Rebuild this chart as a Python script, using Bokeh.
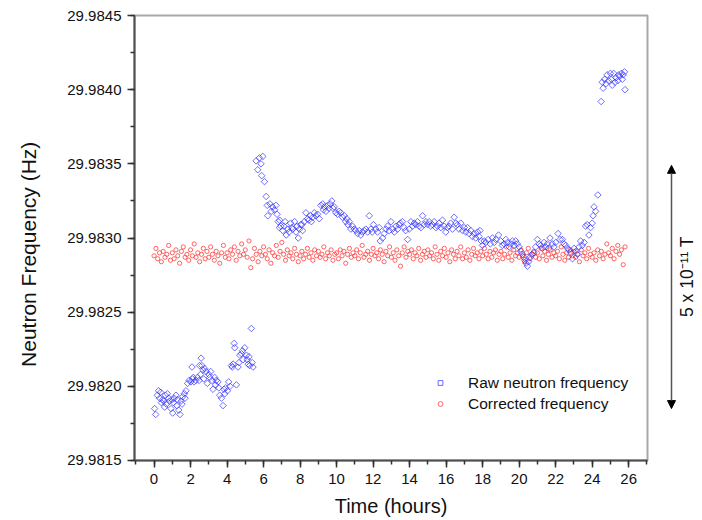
import math
from bokeh.plotting import figure
from bokeh.layouts import row
from bokeh.models import (Range1d, SingleIntervalTicker, PrintfTickFormatter, Legend,
                          LegendItem, Arrow, NormalHead)
from bokeh.core.properties import value
from bokeh.embed import file_html
from bokeh.resources import INLINE

# ---------------- data ----------------
raw_hours = [
    0.03, 0.09, 0.18, 0.25, 0.31, 0.36, 0.40, 0.47, 0.53, 0.58,
    0.62, 0.68, 0.73, 0.80, 0.84, 0.93, 0.98, 1.02, 1.06, 1.11,
    1.20, 1.25, 1.29, 1.35, 1.42, 1.48, 1.53, 1.57, 1.66, 1.70,
    1.75, 1.84, 1.93, 2.02, 2.08, 2.11, 2.15, 2.20, 2.29, 2.38,
    2.47, 2.49, 2.55, 2.58, 2.62, 2.68, 2.72, 2.77, 2.86, 2.92,
    3.00, 3.05, 3.10, 3.18, 3.23, 3.32, 3.37, 3.41, 3.50, 3.55,
    3.60, 3.69, 3.78, 3.83, 3.87, 3.92, 4.02, 4.09, 4.16, 4.24,
    4.28, 4.33, 4.39, 4.42, 4.51, 4.60, 4.65, 4.70, 4.79, 4.84,
    4.88, 4.97, 5.06, 5.10, 5.15, 5.20, 5.24, 5.33, 5.38, 5.42,
    5.59, 5.68, 5.77, 5.86, 5.90, 5.96, 6.05, 6.14, 6.20, 6.23,
    6.35, 6.42, 6.50, 6.60, 6.68, 6.74, 6.80, 6.87, 6.88, 6.95,
    7.05, 7.12, 7.18, 7.24, 7.33, 7.40, 7.48, 7.55, 7.60, 7.70,
    7.78, 7.84, 7.90, 7.96, 8.03, 8.10, 8.14, 8.23, 8.32, 8.41,
    8.48, 8.56, 8.62, 8.69, 8.78, 8.87, 8.96, 9.05, 9.14, 9.24,
    9.28, 9.33, 9.42, 9.51, 9.58, 9.65, 9.74, 9.80, 9.87, 9.96,
    10.05, 10.14, 10.23, 10.32, 10.42, 10.50, 10.56, 10.62, 10.69, 10.78,
    10.87, 10.96, 11.05, 11.15, 11.24, 11.33, 11.42, 11.51, 11.60, 11.70,
    11.79, 11.88, 11.95, 12.02, 12.15, 12.24, 12.33, 12.39, 12.52, 12.61,
    12.70, 12.79, 12.88, 12.98, 13.07, 13.16, 13.25, 13.34, 13.42, 13.49,
    13.61, 13.70, 13.78, 13.89, 13.98, 14.07, 14.16, 14.25, 14.34, 14.43,
    14.52, 14.62, 14.71, 14.80, 14.89, 14.98, 15.07, 15.16, 15.25, 15.34,
    15.44, 15.53, 15.62, 15.71, 15.80, 15.89, 15.98, 16.07, 16.16, 16.25,
    16.35, 16.44, 16.53, 16.62, 16.71, 16.80, 16.90, 16.99, 17.08, 17.17,
    17.26, 17.35, 17.44, 17.53, 17.62, 17.72, 17.80, 17.85, 17.92, 17.99,
    18.08, 18.17, 18.30, 18.42, 18.54, 18.63, 18.72, 18.87, 18.99, 19.08,
    19.17, 19.27, 19.36, 19.45, 19.54, 19.63, 19.72, 19.81, 19.90, 20.00,
    20.09, 20.18, 20.25, 20.31, 20.38, 20.45, 20.52, 20.59, 20.70, 20.81,
    20.90, 21.00, 21.09, 21.18, 21.27, 21.36, 21.45, 21.54, 21.62, 21.69,
    21.82, 21.91, 22.00, 22.13, 22.24, 22.37, 22.46, 22.55, 22.64, 22.73,
    22.82, 22.92, 23.01, 23.10, 23.19, 23.28, 23.37, 23.46, 23.56, 23.64,
    23.73, 23.82, 23.91, 24.00, 24.05, 24.10, 24.19, 24.31,
    24.49, 24.55, 24.60, 24.68, 24.75, 24.82, 24.90, 25.00, 25.05, 25.10,
    25.18, 25.25, 25.30, 25.40, 25.45, 25.50, 25.60, 25.65, 25.70, 25.77,
    25.80,
]
raw_freq = [
    29.98185, 29.98181, 29.98194, 29.98197, 29.98192, 29.98196, 29.98189, 29.98191, 29.98190, 29.98186,
    29.98194, 29.98188, 29.98195, 29.98192, 29.98190, 29.98185, 29.98191, 29.98182, 29.98189, 29.98192,
    29.98194, 29.98187, 29.98191, 29.98184, 29.98181, 29.98190, 29.98188, 29.98193, 29.98195, 29.98192,
    29.98197, 29.98202, 29.98204, 29.98203, 29.98213, 29.98205, 29.98206, 29.98203, 29.98204, 29.98206,
    29.98204, 29.98214, 29.98208, 29.98219, 29.98214, 29.98211, 29.98205, 29.98212, 29.98210, 29.98202,
    29.98208, 29.98206, 29.98210, 29.98204, 29.98198, 29.98206, 29.98201, 29.98204, 29.98203, 29.98199,
    29.98194, 29.98192, 29.98187, 29.98198, 29.98195, 29.98199, 29.98197, 29.98203, 29.98200, 29.98214,
    29.98213, 29.98215, 29.98229, 29.98226, 29.98201, 29.98213, 29.98216, 29.98221, 29.98222, 29.98224,
    29.98218, 29.98226, 29.98221, 29.98218, 29.98215, 29.98220, 29.98214, 29.98239, 29.98216, 29.98213,
    29.98352, 29.98346, 29.98354, 29.98350, 29.98342, 29.98355, 29.98338, 29.98328, 29.98322, 29.98315,
    29.98323, 29.98318, 29.98321, 29.98319, 29.98322, 29.98316, 29.98311, 29.98307, 29.98312, 29.98308,
    29.98305, 29.98308, 29.98311, 29.98302, 29.98306, 29.98304, 29.98310, 29.98307, 29.98306, 29.98311,
    29.98304, 29.98308, 29.98300, 29.98306, 29.98309, 29.98309, 29.98305, 29.98311, 29.98317, 29.98313,
    29.98312, 29.98315, 29.98311, 29.98314, 29.98317, 29.98315, 29.98316, 29.98313, 29.98322, 29.98323,
    29.98319, 29.98321, 29.98318, 29.98322, 29.98320, 29.98323, 29.98325, 29.98320, 29.98321, 29.98317,
    29.98316, 29.98318, 29.98317, 29.98314, 29.98315, 29.98311, 29.98313, 29.98309, 29.98311, 29.98306,
    29.98308, 29.98306, 29.98305, 29.98303, 29.98305, 29.98302, 29.98304, 29.98305, 29.98306, 29.98304,
    29.98315, 29.98306, 29.98304, 29.98309, 29.98306, 29.98304, 29.98307, 29.98298, 29.98300, 29.98303,
    29.98306, 29.98308, 29.98305, 29.98311, 29.98306, 29.98304, 29.98308, 29.98306, 29.98309, 29.98310,
    29.98311, 29.98307, 29.98305, 29.98299, 29.98306, 29.98311, 29.98308, 29.98310, 29.98309, 29.98311,
    29.98308, 29.98307, 29.98315, 29.98309, 29.98311, 29.98309, 29.98311, 29.98308, 29.98309, 29.98311,
    29.98307, 29.98308, 29.98310, 29.98307, 29.98312, 29.98308, 29.98304, 29.98307, 29.98308, 29.98310,
    29.98306, 29.98314, 29.98310, 29.98309, 29.98306, 29.98310, 29.98305, 29.98307, 29.98304, 29.98307,
    29.98303, 29.98305, 29.98301, 29.98303, 29.98300, 29.98304, 29.98301, 29.98305, 29.98298, 29.98295,
    29.98298, 29.98297, 29.98299, 29.98296, 29.98300, 29.98297, 29.98299, 29.98302, 29.98298, 29.98295,
    29.98296, 29.98299, 29.98297, 29.98294, 29.98296, 29.98298, 29.98295, 29.98298, 29.98296, 29.98294,
    29.98291, 29.98289, 29.98287, 29.98285, 29.98283, 29.98281, 29.98284, 29.98287, 29.98289, 29.98290,
    29.98294, 29.98299, 29.98296, 29.98295, 29.98293, 29.98297, 29.98294, 29.98296, 29.98293, 29.98300,
    29.98296, 29.98294, 29.98297, 29.98303, 29.98299, 29.98299, 29.98296, 29.98295, 29.98293, 29.98292,
    29.98290, 29.98286, 29.98293, 29.98291, 29.98289, 29.98294, 29.98298, 29.98295, 29.98297, 29.98308,
    29.98309, 29.98302, 29.98307, 29.98310, 29.98315, 29.98321, 29.98318, 29.98329,
    29.98392, 29.98405, 29.98401, 29.98407, 29.98404, 29.98410, 29.98406, 29.98411, 29.98407, 29.98403,
    29.98411, 29.98405, 29.98408, 29.98406, 29.98410, 29.98409, 29.98411, 29.98407, 29.98410, 29.98412,
    29.98400,
]

corr_hours = [
    0.0, 0.1, 0.2, 0.3, 0.4, 0.5, 0.6, 0.7, 0.8, 0.9,
    1.0, 1.1, 1.2, 1.3, 1.4, 1.5, 1.6, 1.7, 1.8, 1.9,
    2.0, 2.1, 2.2, 2.3, 2.4, 2.5, 2.6, 2.7, 2.8, 2.9,
    3.0, 3.1, 3.2, 3.3, 3.4, 3.5, 3.6, 3.7, 3.8, 3.9,
    4.0, 4.1, 4.2, 4.3, 4.4, 4.5, 4.6, 4.7, 4.8, 4.9,
    5.0, 5.1, 5.2, 5.3, 5.4, 5.5, 5.6, 5.7, 5.8, 5.9,
    6.0, 6.1, 6.2, 6.3, 6.4, 6.5, 6.6, 6.7, 6.8, 6.9,
    7.0, 7.1, 7.2, 7.3, 7.4, 7.5, 7.6, 7.7, 7.8, 7.9,
    8.0, 8.1, 8.2, 8.3, 8.4, 8.5, 8.6, 8.7, 8.8, 8.9,
    9.0, 9.1, 9.2, 9.3, 9.4, 9.5, 9.6, 9.7, 9.8, 9.9,
    10.0, 10.1, 10.2, 10.3, 10.4, 10.5, 10.6, 10.7, 10.8, 10.9,
    11.0, 11.1, 11.2, 11.3, 11.4, 11.5, 11.6, 11.7, 11.8, 11.9,
    12.0, 12.1, 12.2, 12.3, 12.4, 12.5, 12.6, 12.7, 12.8, 12.9,
    13.0, 13.1, 13.2, 13.3, 13.4, 13.5, 13.6, 13.7, 13.8, 13.9,
    14.0, 14.1, 14.2, 14.3, 14.4, 14.5, 14.6, 14.7, 14.8, 14.9,
    15.0, 15.1, 15.2, 15.3, 15.4, 15.5, 15.6, 15.7, 15.8, 15.9,
    16.0, 16.1, 16.2, 16.3, 16.4, 16.5, 16.6, 16.7, 16.8, 16.9,
    17.0, 17.1, 17.2, 17.3, 17.4, 17.5, 17.6, 17.7, 17.8, 17.9,
    18.0, 18.1, 18.2, 18.3, 18.4, 18.5, 18.6, 18.7, 18.8, 18.9,
    19.0, 19.1, 19.2, 19.3, 19.4, 19.5, 19.6, 19.7, 19.8, 19.9,
    20.0, 20.1, 20.2, 20.3, 20.4, 20.5, 20.6, 20.7, 20.8, 20.9,
    21.0, 21.1, 21.2, 21.3, 21.4, 21.5, 21.6, 21.7, 21.8, 21.9,
    22.0, 22.1, 22.2, 22.3, 22.4, 22.5, 22.6, 22.7, 22.8, 22.9,
    23.0, 23.1, 23.2, 23.3, 23.4, 23.5, 23.6, 23.7, 23.8, 23.9,
    24.0, 24.1, 24.2, 24.3, 24.4, 24.5, 24.6, 24.7, 24.8, 24.9,
    25.0, 25.1, 25.2, 25.3, 25.4, 25.5, 25.6, 25.7, 25.8,
]
corr_freq = [
    29.98288, 29.98293, 29.98286, 29.98290, 29.98284, 29.98291, 29.98287, 29.98289, 29.98295, 29.98285,
    29.98290, 29.98286, 29.98292, 29.98288, 29.98283, 29.98291, 29.98294, 29.98287, 29.98289, 29.98285,
    29.98292, 29.98288, 29.98296, 29.98287, 29.98290, 29.98284, 29.98289, 29.98293, 29.98286, 29.98291,
    29.98287, 29.98294, 29.98289, 29.98285, 29.98291, 29.98288, 29.98283, 29.98290, 29.98295, 29.98287,
    29.98290, 29.98286, 29.98292, 29.98289, 29.98294, 29.98285, 29.98291, 29.98288, 29.98296, 29.98289,
    29.98292, 29.98287, 29.98298, 29.98280, 29.98286, 29.98293, 29.98289, 29.98284, 29.98291, 29.98288,
    29.98294, 29.98289, 29.98286, 29.98292, 29.98283, 29.98290, 29.98288, 29.98295, 29.98287, 29.98291,
    29.98297, 29.98289, 29.98285, 29.98292, 29.98288, 29.98290, 29.98286, 29.98293, 29.98289, 29.98284,
    29.98288, 29.98291, 29.98286, 29.98289, 29.98293, 29.98287, 29.98290, 29.98285, 29.98292, 29.98288,
    29.98291, 29.98287, 29.98289, 29.98294, 29.98286, 29.98290, 29.98288, 29.98292, 29.98285, 29.98289,
    29.98290, 29.98286, 29.98292, 29.98288, 29.98291, 29.98283, 29.98289, 29.98293, 29.98287, 29.98290,
    29.98288, 29.98292, 29.98286, 29.98290, 29.98295, 29.98287, 29.98289, 29.98291, 29.98285, 29.98289,
    29.98293, 29.98288, 29.98290, 29.98286, 29.98292, 29.98289, 29.98284, 29.98291, 29.98288, 29.98294,
    29.98287, 29.98290, 29.98285, 29.98292, 29.98288, 29.98281, 29.98290, 29.98294, 29.98287, 29.98291,
    29.98289, 29.98292, 29.98286, 29.98290, 29.98288, 29.98293, 29.98285, 29.98289, 29.98291, 29.98287,
    29.98292, 29.98288, 29.98290, 29.98286, 29.98294, 29.98289, 29.98285, 29.98291, 29.98288, 29.98293,
    29.98287, 29.98290, 29.98284, 29.98292, 29.98289, 29.98286, 29.98291, 29.98288, 29.98294, 29.98286,
    29.98290, 29.98287, 29.98292, 29.98285, 29.98289, 29.98293, 29.98288, 29.98290, 29.98286, 29.98291,
    29.98288, 29.98293, 29.98289, 29.98286, 29.98291, 29.98287, 29.98290, 29.98292, 29.98285, 29.98289,
    29.98291, 29.98286, 29.98289, 29.98294, 29.98287, 29.98290, 29.98285, 29.98292, 29.98288, 29.98290,
    29.98287, 29.98292, 29.98288, 29.98284, 29.98290, 29.98293, 29.98286, 29.98289, 29.98291, 29.98287,
    29.98290, 29.98286, 29.98293, 29.98288, 29.98291, 29.98285, 29.98289, 29.98292, 29.98287, 29.98290,
    29.98288, 29.98291, 29.98286, 29.98294, 29.98289, 29.98285, 29.98290, 29.98287, 29.98292, 29.98288,
    29.98291, 29.98287, 29.98289, 29.98284, 29.98292, 29.98288, 29.98290, 29.98286, 29.98293, 29.98289,
    29.98287, 29.98290, 29.98285, 29.98292, 29.98288, 29.98291, 29.98286, 29.98289, 29.98296, 29.98290,
    29.98288, 29.98293, 29.98286, 29.98291, 29.98295, 29.98289, 29.98292, 29.98282, 29.98294,
]

x_ticks_interval = 2
y_ticks_interval = 0.0005
x_limits = (-1.07, 27.03)
y_limits = (29.98149999, 29.98450001)

# scale bar (5 x 10^-11 T), in frequency units
scale_low = 29.98185
scale_high = 29.98349
scale_text_y = 29.98274
ytitle_y = 29.98289

FONT = "Liberation Sans"
TOP, BOTTOM = 15, 60

y_range = Range1d(*y_limits)

# ---- main plot ----
p = figure(width=599, height=520, output_backend="svg", toolbar_location=None,
           x_range=Range1d(*x_limits), y_range=y_range,
           min_border_left=84, min_border_right=2, min_border_top=TOP,
           min_border_bottom=BOTTOM)
p.background_fill_color = "white"
p.border_fill_color = "white"
p.grid.visible = False
p.outline_line_color = "#a8a8a8"
p.outline_line_width = 2

rr = p.scatter(corr_hours, corr_freq, marker="circle", size=4.2, fill_color=None,
               line_color="#ff4040", line_alpha=0.8, line_width=1)
rb = p.scatter(raw_hours, raw_freq, marker="square", size=4.6, angle=math.pi / 4,
               fill_color=None, line_color="#3030ff", line_alpha=0.7, line_width=1)

p.xaxis.ticker = SingleIntervalTicker(interval=x_ticks_interval, num_minor_ticks=2)
p.yaxis.ticker = SingleIntervalTicker(interval=y_ticks_interval, num_minor_ticks=2)
p.yaxis.formatter = PrintfTickFormatter(format="%.4f")

for ax in (p.xaxis[0], p.yaxis[0]):
    ax.axis_line_width = 2
    ax.axis_line_color = "#505050"
    ax.major_tick_line_color = "#303030"
    ax.major_tick_line_width = 1.5
    ax.minor_tick_line_color = "#303030"
    ax.minor_tick_line_width = 1.5
    ax.major_tick_out = 7
    ax.major_tick_in = 0
    ax.minor_tick_out = 4
    ax.minor_tick_in = 0
    ax.major_label_text_font = FONT
    ax.major_label_text_font_size = "15px"
    ax.major_label_text_color = "#111111"
    ax.axis_label_text_font = FONT
    ax.axis_label_text_font_style = "normal"
    ax.axis_label_text_color = "#111111"

p.xaxis.major_label_standoff = 6
p.yaxis.major_label_standoff = 6
p.xaxis.axis_label = "Time (hours)"
p.xaxis.axis_label_text_font_size = "20px"
p.xaxis.axis_label_standoff = 8

legend = Legend(items=[LegendItem(label="Raw neutron frequency", renderers=[rb]),
                       LegendItem(label="Corrected frequency", renderers=[rr])],
                location=(300, 46))
legend.label_text_font = FONT
legend.label_text_font_size = "15.5px"
legend.label_text_color = "#111111"
legend.background_fill_alpha = 0
legend.border_line_alpha = 0
legend.glyph_width = 12
legend.glyph_height = 21
legend.label_height = 21
legend.spacing = 0
legend.padding = 0
legend.margin = 0
legend.label_standoff = 22
p.add_layout(legend)


def side_panel(width):
    f = figure(width=width, height=520, output_backend="svg", toolbar_location=None,
               x_range=Range1d(0, 1), y_range=y_range,
               x_axis_location=None, y_axis_location=None,
               min_border_left=0, min_border_right=0, min_border_top=TOP,
               min_border_bottom=BOTTOM)
    f.grid.visible = False
    f.outline_line_color = None
    f.background_fill_color = "white"
    f.border_fill_color = "white"
    return f


# ---- left panel: y-axis title ----
left = side_panel(50)
left.text(x=[0.56], y=[ytitle_y], text=["Neutron Frequency (Hz)"], angle=math.pi / 2,
          text_align="center", text_baseline="middle", text_font=value(FONT),
          text_font_size="21px", text_color="#111111")

# ---- right panel: field scale bar ----
right = side_panel(53)
right.add_layout(Arrow(x_start=0.415, y_start=scale_low, x_end=0.415, y_end=scale_high,
                       start=NormalHead(size=8, fill_color="black", line_color="black"),
                       end=NormalHead(size=8, fill_color="black", line_color="black"),
                       line_color="#555555", line_width=1.5))
right.text(x=[0.70], y=[scale_text_y], text=["5 x 10\u207b\u00b9\u00b9 T"], angle=math.pi / 2,
           text_align="center", text_baseline="middle", text_font=value(FONT),
           text_font_size="17.5px", text_color="#111111")

layout = row(left, p, right)
open("out.html", "w").write(file_html(layout, INLINE))
